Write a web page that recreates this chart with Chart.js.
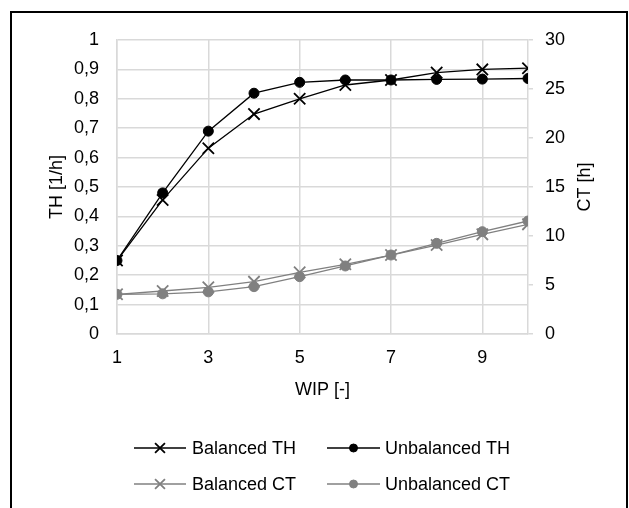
<!DOCTYPE html>
<html>
<head>
<meta charset="utf-8">
<script src="https://cdn.jsdelivr.net/npm/chart.js@4"></script>
<style>
  html, body { margin: 0; padding: 0; background: #fff; }
  #wrap { width: 629px; height: 508px; }
</style>
</head>
<body>
<div id="wrap"><canvas id="chart" width="629" height="508"></canvas></div>
<script>
// x values (WIP) and the four series
const wip = [1, 2, 3, 4, 5, 6, 7, 8, 9, 10];
const xTicks = [1, 3, 5, 7, 9];
const balancedTH = [0.25, 0.456, 0.632, 0.748, 0.80, 0.847, 0.864, 0.889, 0.90, 0.904];
const unbalancedTH = [0.25, 0.48, 0.69, 0.819, 0.856, 0.864, 0.864, 0.866, 0.867, 0.869];
const balancedCT = [4.05, 4.39, 4.76, 5.34, 6.29, 7.11, 8.06, 9.08, 10.17, 11.19];
const unbalancedCT = [4.05, 4.1, 4.3, 4.83, 5.85, 6.94, 8.06, 9.25, 10.44, 11.53];

const FONT = 'Liberation Sans, Arial, sans-serif';
const FS = 18;
const GRID = '#d9d9d9';
const GREY = '#808080';

function pts(ys) {
    return wip.map((x, i) => ({ x: x, y: ys[i] }));
}

function fmtTH(v) {
    v = Math.round(v * 10) / 10;
    if (v === 0 || v === 1) return String(v);
    return v.toFixed(1).replace('.', ',');
}

// outer frame, right axis title (reads upward) and the two-column legend
const extras = {
    id: 'extras',
    afterDraw(chart) {
        const ctx = chart.ctx;
        ctx.save();
        ctx.strokeStyle = '#000';
        ctx.lineWidth = 2;
        ctx.strokeRect(11, 12, 616, 520);

        ctx.fillStyle = '#000';
        ctx.font = FS + 'px ' + FONT;
        ctx.textAlign = 'center';
        ctx.textBaseline = 'middle';
        ctx.translate(585, 187);
        ctx.rotate(-Math.PI / 2);
        ctx.fillText('CT [h]', 0, 0);
        ctx.restore();

        // legend
        const cols = [{ x1: 134, x2: 186, tx: 192 }, { x1: 327, x2: 380, tx: 385 }];
        const rows = [448, 484];
        chart.data.datasets.forEach((ds, i) => {
            const c = cols[i % 2], y = rows[Math.floor(i / 2)];
            ctx.save();
            ctx.strokeStyle = ds.borderColor;
            ctx.fillStyle = ds.borderColor;
            ctx.lineWidth = ds.borderWidth;
            ctx.beginPath();
            ctx.moveTo(c.x1, y);
            ctx.lineTo(c.x2, y);
            ctx.stroke();
            ctx.lineWidth = ds.pointBorderWidth;
            Chart.helpers.drawPoint(ctx, {
                pointStyle: ds.pointStyle,
                radius: ds.pointRadius - 1,
                borderWidth: ds.pointBorderWidth
            }, (c.x1 + c.x2) / 2, y);
            ctx.restore();
            ctx.save();
            ctx.fillStyle = '#000';
            ctx.font = FS + 'px ' + FONT;
            ctx.textBaseline = 'middle';
            ctx.fillText(ds.label, c.tx, y + 1);
            ctx.restore();
        });
    }
};

function series(label, data, color, style, axis, order) {
    return {
        label: label,
        data: pts(data),
        yAxisID: axis,
        borderColor: color,
        backgroundColor: color,
        pointBackgroundColor: color,
        pointBorderColor: color,
        borderWidth: 1.3,
        pointStyle: style,
        pointRadius: style === 'circle' ? 5 : 8,
        pointBorderWidth: style === 'circle' ? 1 : 1.8,
        tension: 0,
        order: order
    };
}

new Chart(document.getElementById('chart'), {
    type: 'line',
    data: {
        datasets: [
            series('Balanced TH', balancedTH, '#000', 'crossRot', 'y', 4),
            series('Unbalanced TH', unbalancedTH, '#000', 'circle', 'y', 3),
            series('Balanced CT', balancedCT, GREY, 'crossRot', 'y2', 2),
            series('Unbalanced CT', unbalancedCT, GREY, 'circle', 'y2', 1)
        ]
    },
    options: {
        responsive: false,
        animation: false,
        layout: { padding: { top: 40, left: 0, right: 0, bottom: 0 } },
        plugins: { legend: { display: false }, tooltip: { enabled: false } },
        scales: {
            x: {
                type: 'linear',
                min: 1,
                max: 10,
                afterBuildTicks: s => { s.ticks = xTicks.map(v => ({ value: v })); },
                afterFit: s => { s.height = 174; },
                grid: { color: GRID, lineWidth: 1.5, drawTicks: false },
                border: { color: GRID, width: 1.5 },
                ticks: { color: '#000', font: { family: FONT, size: FS }, padding: 13, maxRotation: 0 },
                title: { display: true, text: 'WIP [-]', color: '#000', font: { family: FONT, size: FS }, padding: { top: 0, bottom: 107 } }
            },
            y: {
                position: 'left',
                min: 0,
                max: 1,
                afterFit: s => { s.width = 117; },
                grid: { color: GRID, lineWidth: 1.5, drawTicks: false },
                border: { color: GRID, width: 1.5 },
                ticks: { stepSize: 0.1, color: '#000', font: { family: FONT, size: FS }, padding: 18, callback: fmtTH },
                title: { display: true, text: 'TH [1/h]', color: '#000', font: { family: FONT, size: FS }, padding: { top: 46, bottom: 0 } }
            },
            y2: {
                position: 'right',
                min: 0,
                max: 30,
                afterFit: s => { s.width = 101; },
                grid: { drawOnChartArea: false, color: GRID, lineWidth: 1.5, tickLength: 5 },
                border: { color: GRID, width: 1.5 },
                ticks: { stepSize: 5, color: '#000', font: { family: FONT, size: FS }, padding: 12 }
            }
        }
    },
    plugins: [extras]
});
</script>
</body>
</html>
